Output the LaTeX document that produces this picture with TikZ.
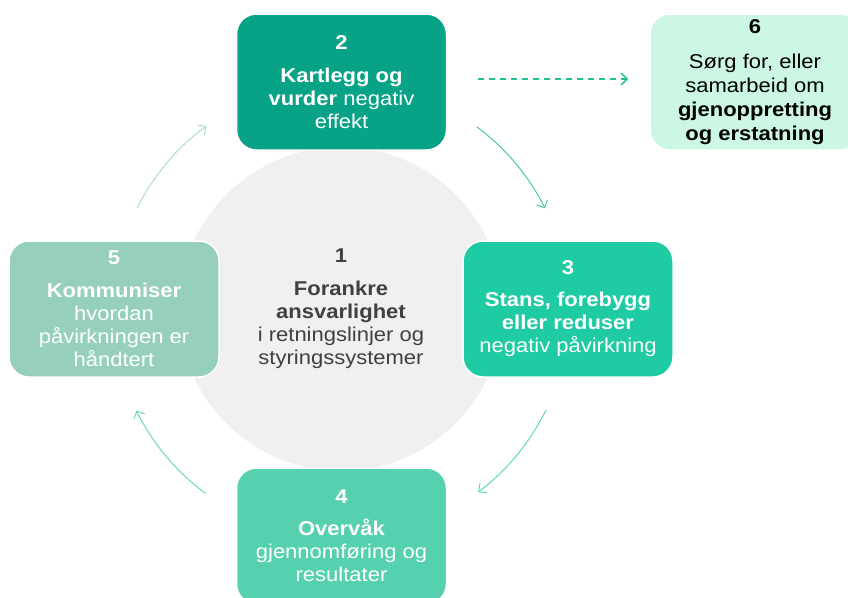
\documentclass[tikz,border=0pt]{standalone}
\usepackage{fontspec}
\setmainfont{Liberation Sans}[FakeStretch=1.1]
\usetikzlibrary{arrows.meta}
\definecolor{cA}{HTML}{08A386}
\definecolor{cB}{HTML}{1FCBA2}
\definecolor{cC}{HTML}{56D1AF}
\definecolor{cD}{HTML}{96D0BC}
\definecolor{cE}{HTML}{CCF7E2}
\definecolor{cGray}{HTML}{F0F0F0}
\definecolor{cText}{HTML}{404040}
\definecolor{arTR}{HTML}{3CC3A0}
\definecolor{arBR}{HTML}{4ED9B2}
\definecolor{arBL}{HTML}{62D5B3}
\definecolor{arTL}{HTML}{A3DBC9}
\definecolor{arDash}{HTML}{1FBF95}
\tikzset{
  stepbox/.style={rectangle, rounded corners=20pt, draw=white, line width=1.5pt,
    minimum width=210pt, minimum height=136pt, inner sep=0pt, align=center,
    font=\fontsize{20}{23}\selectfont},
  cyc/.style={line width=0.9pt, -{Straight Barb[length=6pt,width=12pt]}},
}
\begin{document}
\begin{tikzpicture}[x=1pt,y=-1pt]
\useasboundingbox (0,0) rectangle (848,597);
\clip (0,0) rectangle (848,597);
% central circle
\node[circle, fill=cGray, minimum size=324pt, inner sep=0pt, align=center,
  text=cText, font=\fontsize{20}{23}\selectfont] (n1) at (341,309)
  {\textbf{1}\\[10pt]\textbf{Forankre}\\\textbf{ansvarlighet}\\i retningslinjer og\\styringssystemer};
% boxes
\node[stepbox, fill=cA, text=white] (n2) at (341.5,82)
  {\textbf{2}\\[10pt]\textbf{Kartlegg og}\\\textbf{vurder} negativ\\effekt};
\node[stepbox, fill=cB, text=white] (n3) at (568,309)
  {\textbf{3}\\[9pt]\textbf{Stans, forebygg}\\\textbf{eller reduser}\\negativ påvirkning};
\node[stepbox, fill=cC, text=white] (n4) at (341.5,536)
  {\textbf{4}\\[9pt]\textbf{Overvåk}\\gjennomføring og\\resultater};
\node[stepbox, fill=cD, text=white] (n5) at (114,309)
  {\textbf{5}\\[10pt]\textbf{Kommuniser}\\hvordan\\påvirkningen er\\håndtert};
\node[stepbox, fill=cE, text=black, font=\fontsize{20}{24}\selectfont] (n6) at (755,82)
  {\textbf{6}\\[11pt]Sørg for, eller\\samarbeid om\\\textbf{gjenoppretting}\\\textbf{og erstatning}};
% cycle arrows
\coordinate (ctr) at (341,310);
\coordinate (a23) at ([shift={(53.4:228pt)}]ctr);
\coordinate (a34) at ([shift={(-26:228pt)}]ctr);
\coordinate (a45) at ([shift={(233.6:228pt)}]ctr);
\coordinate (a52) at ([shift={(153.3:228pt)}]ctr);
\draw[cyc, draw=arTR] (a23) arc[start angle=53.4, end angle=26.5, radius=228pt];
\draw[cyc, draw=arBR] (a34) arc[start angle=-26, end angle=-53, radius=228pt];
\draw[cyc, draw=arBL] (a45) arc[start angle=233.6, end angle=206.2, radius=228pt];
\draw[cyc, draw=arTL] (a52) arc[start angle=153.3, end angle=126.2, radius=228pt];
% dashed arrow to 6
\coordinate (d2) at (478,79);
\coordinate (d6) at (628,79);
\draw[draw=arDash, line width=1.3pt, dash pattern=on 6pt off 5pt,
  -{Straight Barb[length=6pt,width=12pt]}] (d2) -- (d6);
\end{tikzpicture}
\end{document}
